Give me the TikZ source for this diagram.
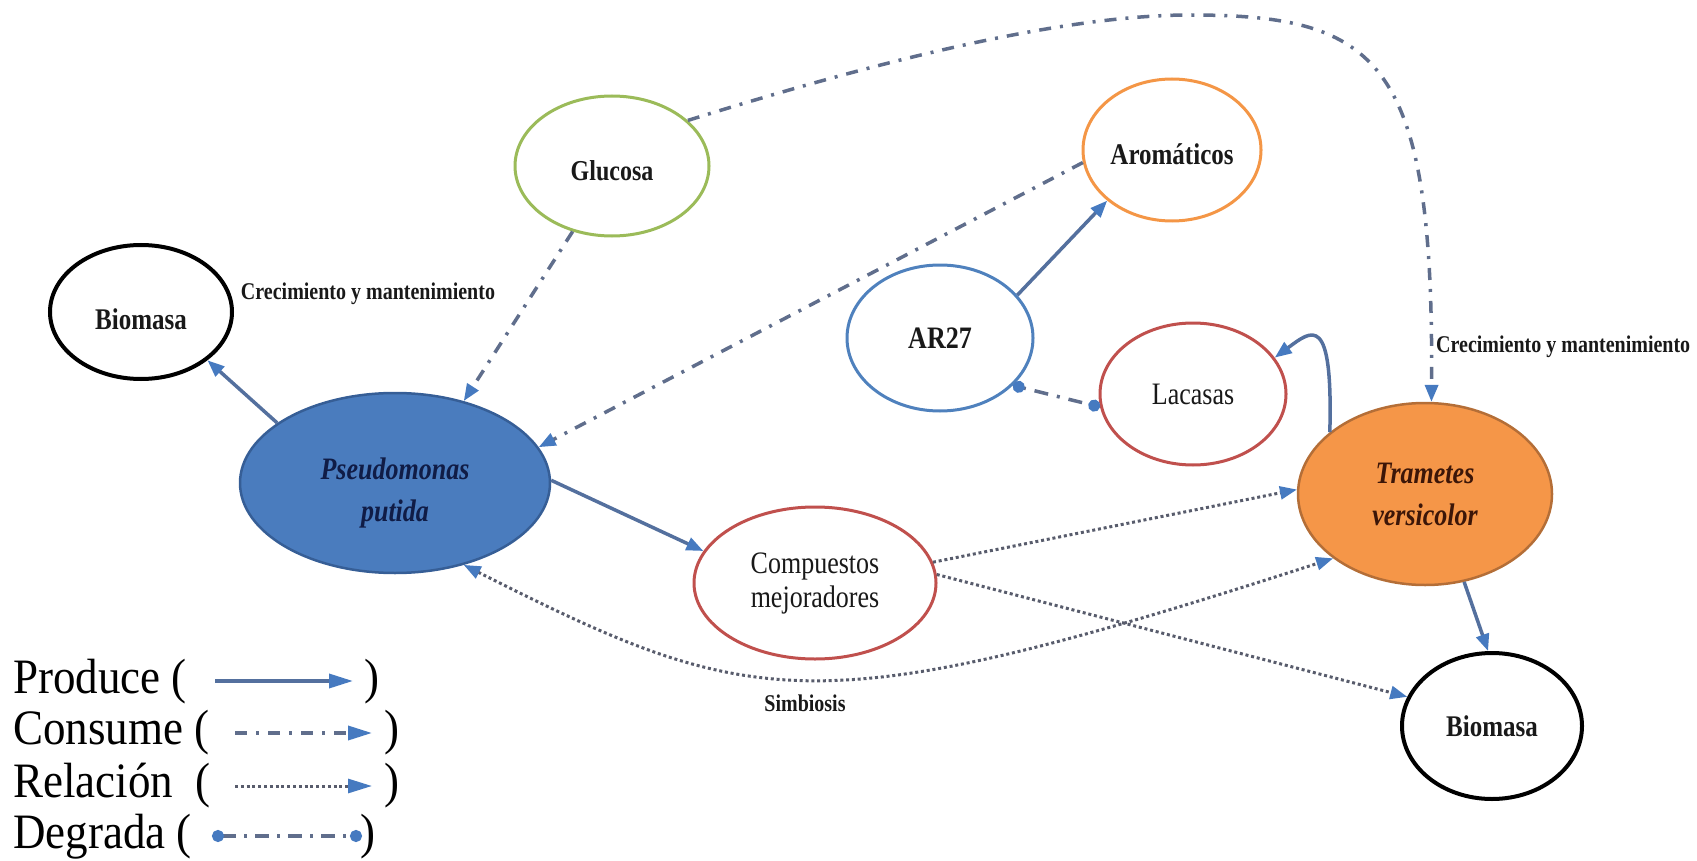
\documentclass[tikz,border=0pt]{standalone}
\usepackage{fontspec}
\setmainfont{Liberation Serif}
\usepackage{graphicx}
\usetikzlibrary{arrows.meta,shapes.geometric}
\definecolor{prodc}{RGB}{84,112,158}
\definecolor{consc}{RGB}{96,110,140}
\definecolor{relc}{RGB}{88,92,108}
\definecolor{headc}{RGB}{70,122,192}
\definecolor{psfill}{RGB}{74,124,190}
\definecolor{psdraw}{RGB}{54,94,150}
\definecolor{pstext}{RGB}{16,28,70}
\definecolor{tvfill}{RGB}{245,150,72}
\definecolor{tvdraw}{RGB}{180,110,55}
\definecolor{tvtext}{RGB}{60,22,8}
\definecolor{glc}{RGB}{155,187,89}
\definecolor{aroc}{RGB}{244,150,70}
\definecolor{arc}{RGB}{79,129,189}
\definecolor{redc}{RGB}{192,80,77}
\definecolor{txtc}{RGB}{25,25,25}
\newcommand{\vst}[1]{\scalebox{1}[1.2]{#1}}
\newcommand{\vsl}[1]{\scalebox{1}[1.1]{#1}}
\newcommand{\lowr}[2]{\raisebox{-#1pt}[\height][\depth]{#2}}
\tikzset{
  ell/.style={ellipse, draw, line width=3pt, inner sep=0pt, align=center, fill=white, text=txtc},
  prod/.style={draw=prodc, line width=3.5pt, -{Triangle[length=17pt,width=13pt,color=headc]}},
  cons/.style={draw=consc, line width=3.5pt, dash pattern=on 12pt off 9pt on 3pt off 9pt, -{Triangle[length=17pt,width=13pt,color=headc]}},
  rel/.style={draw=relc, line width=3pt, dash pattern=on 3pt off 2.8pt, -{Triangle[length=17pt,width=13pt,color=headc]}},
  relboth/.style={draw=relc, line width=3pt, dash pattern=on 3pt off 2.8pt, {Triangle[length=17pt,width=13pt,color=headc]}-{Triangle[length=17pt,width=13pt,color=headc]}},
  degr/.style={draw=consc, line width=3.5pt, dash pattern=on 3pt off 9pt on 14pt off 9pt, {Circle[length=12pt,color=headc]}-{Circle[length=12pt,color=headc]}},
  lbl/.style={font=\bfseries\fontsize{20}{24}\selectfont, text=txtc, inner sep=0pt},
  legt/.style={font=\fontsize{45}{50}\selectfont, text=black, inner sep=0pt, anchor=base west},
  bf25/.style={font=\bfseries\fontsize{25}{30}\selectfont},
  rm26/.style={font=\fontsize{26}{33}\selectfont}
}
\begin{document}
\begin{tikzpicture}[x=1pt,y=-1pt]
\useasboundingbox (0,0) rectangle (1697,861);

% nodes
\node[ell, draw=black, line width=4pt, minimum width=182pt, minimum height=134pt, bf25] (bl) at (141,312) {\lowr{7}{\vst{Biomasa}}};
\node[ell, draw=glc, minimum width=194pt, minimum height=140pt, font=\bfseries\fontsize{24}{28}\selectfont] (gl) at (612,166) {\lowr{5}{\vst{Glucosa}}};
\node[ell, draw=aroc, minimum width=178pt, minimum height=142pt, bf25] (aro) at (1172,150) {\lowr{4}{\vst{Aromáticos}}};
\node[ell, draw=arc, minimum width=186pt, minimum height=146pt, font=\bfseries\fontsize{26}{30}\selectfont] (ar) at (940,338) {\vst{AR27}};
\node[ell, draw=redc, minimum width=186pt, minimum height=142pt, rm26] (lac) at (1193,394) {\vst{Lacasas}};
\node[ell, draw=psdraw, fill=psfill, line width=2.5pt, minimum width=310pt, minimum height=180pt, text=pstext, font=\bfseries\itshape\fontsize{26}{38}\selectfont] (ps) at (395,483) {\lowr{10}{\begin{tabular}{@{}c@{}}\vst{Pseudomonas}\\[4pt]\vst{putida}\end{tabular}}};
\node[ell, draw=redc, minimum width=242pt, minimum height=152pt, font=\fontsize{26}{34}\selectfont] (comp) at (815,583) {\vst{Compuestos}\\\vst{mejoradores}};
\node[ell, draw=tvdraw, fill=tvfill, line width=2.5pt, minimum width=254pt, minimum height=182pt, text=tvtext, font=\bfseries\itshape\fontsize{26}{42}\selectfont] (tv) at (1425,494) {\vst{Trametes}\\\vst{versicolor}};
\node[ell, draw=black, line width=4pt, minimum width=180pt, minimum height=146pt, bf25] (br) at (1492,726) {\vst{Biomasa}};

% labels
\node[lbl] (lab1) at (368,294) {\vst{Crecimiento y mantenimiento}};
\node[lbl, anchor=west] (lab2) at (1436,347) {\vst{Crecimiento y mantenimiento}};
\node[lbl] (lab3) at (805,703) {\vst{Simbiosis}};

% connectors
\draw[prod] (ps.153) -- (bl.-36);
\draw[cons] (gl.-121) -- (ps.50);
\draw[cons] (aro.-172) -- (ps.14);
\draw[prod] (ar.29) -- (aro.-142);
\draw[degr] (ar.-33) -- (lac.188);
\draw[prod] (tv.147) .. controls (1333,312) and (1312,330) .. (lac.24);
\draw[cons] (gl.31) .. controls (850,70) and (1050,15) .. (1190,15)
   .. controls (1380,15) and (1434,60) .. (tv.86);
\draw[prod] (ps.1) -- (comp.164);
\draw[rel] (comp.10) -- (tv.178);
\draw[rel] (comp.4) -- (br.161);
\draw[relboth] (ps.-50) .. controls (754,711) and (814,726) .. (tv.-145);
\draw[prod] (tv.-66) -- (br.93);

% legend
\node[legt] (lg1) at (13,693) {\vsl{Produce (}};
\coordinate (lp1) at (215,681); \coordinate (lp2) at (353,681);
\draw[prod, -{Triangle[length=24pt,width=14pt,color=headc]}] (lp1) -- (lp2);
\node[legt] (lg1b) at (364,693) {\vsl{)}};

\node[legt] (lg2) at (13,744) {\vsl{Consume (}};
\coordinate (lc1) at (235,733); \coordinate (lc2) at (372,733);
\draw[cons, -{Triangle[length=24pt,width=14pt,color=headc]}] (lc1) -- (lc2);
\node[legt] (lg2b) at (384,744) {\vsl{)}};

\node[legt] (lg3) at (13,797) {\vsl{Relación\ \ (}};
\coordinate (lr1) at (235,786); \coordinate (lr2) at (372,786);
\draw[rel, -{Triangle[length=24pt,width=14pt,color=headc]}] (lr1) -- (lr2);
\node[legt] (lg3b) at (384,797) {\vsl{)}};

\node[legt] (lg4) at (13,848) {\vsl{Degrada (}};
\coordinate (ld1) at (212,836); \coordinate (ld2) at (362,836);
\draw[degr, dash pattern=on 14pt off 8pt on 3pt off 8pt] (ld1) -- (ld2);
\node[legt] (lg4b) at (360,848) {\vsl{)}};
\end{tikzpicture}
\end{document}
